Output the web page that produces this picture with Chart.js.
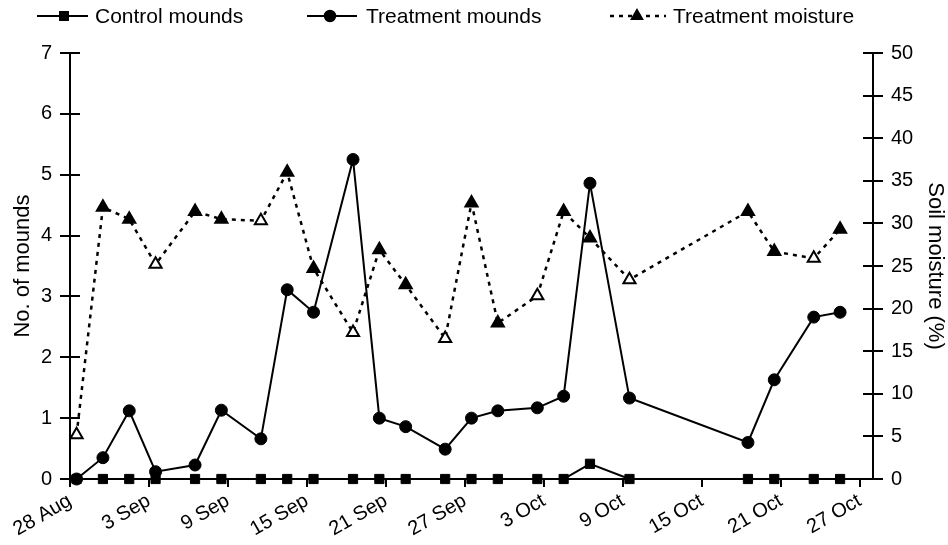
<!DOCTYPE html>
<html>
<head>
<meta charset="utf-8">
<script src="https://cdn.jsdelivr.net/npm/chart.js@4.4.1/dist/chart.umd.min.js"></script>
<style>
  html, body { margin: 0; padding: 0; background: #fff; }
  #wrap { width: 948px; height: 545px; }
</style>
</head>
<body>
<div id="wrap"><canvas id="grafico" width="948" height="545"></canvas></div>
<script>
// dias contados a partir de 28 Aug
const tickDays = [0, 6, 12, 18, 24, 30, 36, 42, 48, 54, 60];
const tickLabels = ['28 Aug', '3 Sep', '9 Sep', '15 Sep', '21 Sep', '27 Sep', '3 Oct', '9 Oct', '15 Oct', '21 Oct', '27 Oct'];

const sampleDays = [0.5, 2.5, 4.5, 6.5, 9.5, 11.5, 14.5, 16.5, 18.5, 21.5, 23.5, 25.5,
                    28.5, 30.5, 32.5, 35.5, 37.5, 39.5, 42.5, 51.5, 53.5, 56.5, 58.5];
const controlMounds = [0, 0, 0, 0, 0, 0, 0, 0, 0, 0, 0, 0,
                       0, 0, 0, 0, 0, 0.25, 0, 0, 0, 0, 0];
const treatmentMounds = [0, 0.35, 1.12, 0.12, 0.23, 1.13, 0.66, 3.11, 2.74, 5.25, 1.0, 0.86,
                         0.49, 1.0, 1.12, 1.17, 1.36, 4.86, 1.33, 0.6, 1.63, 2.66, 2.74];
const treatmentMoisture = [5.2, 31.9, 30.5, 25.2, 31.4, 30.5, 30.3, 36.0, 24.7, 17.2, 26.9, 22.8,
                           16.5, 32.4, 18.3, 21.5, 31.4, 28.3, 23.4, 31.4, 26.7, 25.9, 29.3];
// marcador vazado (1) ou cheio (0)
const moistureOpenMarker = [1, 0, 0, 1, 0, 0, 1, 0, 0, 1, 0, 0,
                            1, 0, 0, 1, 0, 0, 1, 0, 0, 1, 0];

const FONTE = '"Liberation Sans", Arial, Helvetica, sans-serif';

const pares = (ys) => sampleDays.map((d, i) => ({x: d, y: ys[i]}));

// legenda desenhada a mao (linha + marcador + texto)
const legendaPlugin = {
    id: 'legenda',
    afterDraw(chart) {
        const ctx = chart.ctx;
        const y = 16;
        const spots = [
            {x0: 37, x1: 88, mark: 64, text: 95},
            {x0: 307, x1: 357, mark: 330, text: 366},
            {x0: 610, x1: 666, mark: 637, text: 673},
        ];
        chart.data.datasets.forEach((ds, i) => {
            const s = spots[i];
            ctx.save();
            ctx.strokeStyle = '#000';
            ctx.lineWidth = ds.borderWidth;
            ctx.setLineDash(ds.borderDash || []);
            ctx.beginPath();
            ctx.moveTo(s.x0, y);
            ctx.lineTo(s.x1, y);
            ctx.stroke();
            ctx.setLineDash([]);
            ctx.fillStyle = '#000';
            ctx.lineWidth = 1.5;
            Chart.helpers.drawPoint(ctx, {pointStyle: ds.pointStyle, radius: ds.pointRadius - 0.5, borderWidth: 1.5, rotation: 0}, s.mark, y);
            ctx.font = '21px ' + FONTE;
            ctx.textBaseline = 'middle';
            ctx.fillText(ds.label, s.text, y + 1);
            ctx.restore();
        });
    }
};

// tracinhos para dentro nos dois eixos y
const ticksInternos = {
    id: 'ticksInternos',
    beforeDatasetsDraw(chart) {
        const ctx = chart.ctx;
        ctx.save();
        ctx.strokeStyle = '#000';
        ctx.lineWidth = 2;
        [['y', 1], ['y1', -1]].forEach(([id, dir]) => {
            const sc = chart.scales[id];
            const x = id === 'y' ? chart.chartArea.left : chart.chartArea.right;
            sc.ticks.forEach(t => {
                const py = Math.round(sc.getPixelForValue(t.value));
                ctx.beginPath();
                ctx.moveTo(x, py);
                ctx.lineTo(x + dir * 10, py);
                ctx.stroke();
            });
        });
        ctx.restore();
    }
};

const eixoY = (pos, max, passo, titulo, padTitulo) => ({
    type: 'linear',
    position: pos,
    min: 0,
    max: max,
    grid: {drawOnChartArea: false, color: '#000', lineWidth: 2, tickLength: 10},
    border: {color: '#000', width: 2},
    ticks: {stepSize: passo, color: '#000', padding: 8, font: {family: FONTE, size: 20}},
    title: {display: true, text: titulo, color: '#000', padding: {top: padTitulo, bottom: 0}, font: {family: FONTE, size: 22}},
    afterFit: (s) => { s.width = pos === 'left' ? 70 : 75; }
});

new Chart(document.getElementById('grafico'), {
    type: 'line',
    data: {
        datasets: [
            {
                label: 'Control mounds',
                data: pares(controlMounds),
                yAxisID: 'y',
                borderColor: '#000',
                borderWidth: 2,
                pointStyle: 'rect',
                pointRadius: 6.5,
                pointBackgroundColor: '#000',
                pointBorderColor: '#000',
                pointBorderWidth: 1,
                clip: false,
            },
            {
                label: 'Treatment mounds',
                data: pares(treatmentMounds),
                yAxisID: 'y',
                borderColor: '#000',
                borderWidth: 2,
                pointStyle: 'circle',
                pointRadius: 6,
                pointBackgroundColor: '#000',
                pointBorderColor: '#000',
                pointBorderWidth: 1,
                clip: false,
            },
            {
                label: 'Treatment moisture',
                data: pares(treatmentMoisture),
                yAxisID: 'y1',
                borderColor: '#000',
                borderWidth: 2.5,
                borderDash: [4, 5],
                pointStyle: 'triangle',
                pointRadius: 7,
                pointBackgroundColor: moistureOpenMarker.map(o => o ? '#fff' : '#000'),
                pointBorderColor: '#000',
                pointBorderWidth: 2,
                clip: false,
            },
        ]
    },
    options: {
        responsive: false,
        animation: false,
        devicePixelRatio: 1,
        layout: {padding: {top: 53, left: 0, right: 0, bottom: 0}},
        elements: {line: {tension: 0}},
        plugins: {legend: {display: false}, tooltip: {enabled: false}},
        scales: {
            x: {
                type: 'linear',
                min: 0,
                max: 61,
                grid: {drawOnChartArea: false, color: '#000', lineWidth: 2, tickLength: 8},
                border: {color: '#000', width: 2},
                ticks: {
                    color: '#000',
                    autoSkip: false,
                    minRotation: 30,
                    maxRotation: 30,
                    padding: 2,
                    font: {family: FONTE, size: 20},
                    callback: (v) => tickLabels[tickDays.indexOf(v)]
                },
                afterBuildTicks: (s) => { s.ticks = tickDays.map(v => ({value: v})); },
                afterFit: (s) => { s.height = 66; }
            },
            y: eixoY('left', 7, 1, 'No. of mounds', 10),
            y1: eixoY('right', 50, 5, 'Soil moisture (%)', 0),
        }
    },
    plugins: [ticksInternos, legendaPlugin]
});
</script>
</body>
</html>
